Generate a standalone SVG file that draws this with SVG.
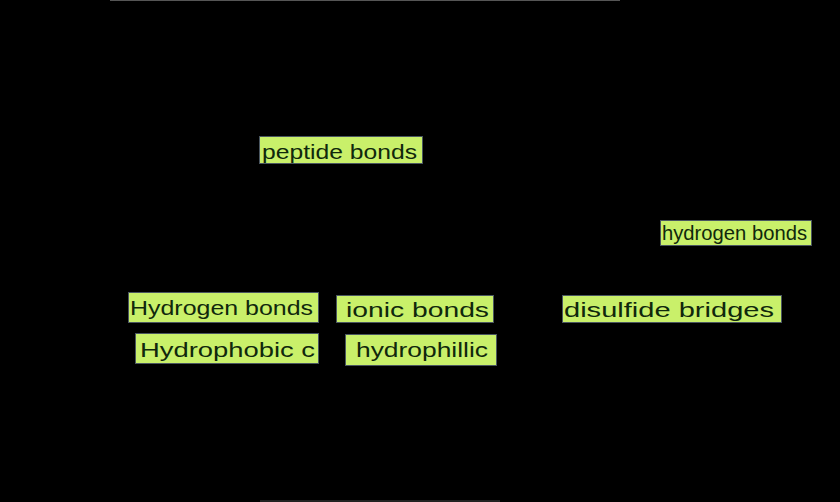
<svg xmlns="http://www.w3.org/2000/svg" width="840" height="502" viewBox="0 0 840 502">
<style>
.box{fill:#c9f06a;stroke:#4a5660;stroke-width:1}
.lbl{font-family:"Liberation Sans","DejaVu Sans",sans-serif;font-size:21px;fill:#10280c;dominant-baseline:central}
</style>
<rect width="840" height="502" fill="#000"/>
<g id="edges"></g>
<line x1="110" y1="0.5" x2="620" y2="0.5" stroke="#555" stroke-width="1"/>
<line x1="260" y1="501" x2="500" y2="501" stroke="#444" stroke-width="1"/>
<g id="n-peptide"><rect class="box" x="259.500" y="136.500" width="163" height="27"/><text class="lbl" x="262" y="151" textLength="155" lengthAdjust="spacingAndGlyphs">peptide bonds</text></g>
<g id="n-hbonds-right"><rect class="box" x="660.500" y="220.500" width="151" height="25"/><text class="lbl" x="662" y="232" font-size="18" textLength="145" lengthAdjust="spacingAndGlyphs">hydrogen bonds</text></g>
<g id="n-hbonds"><rect class="box" x="128.500" y="292.500" width="190" height="30"/><text class="lbl" x="130" y="307" textLength="183" lengthAdjust="spacingAndGlyphs">Hydrogen bonds</text></g>
<g id="n-ionic"><rect class="box" x="336.500" y="295.500" width="157" height="27"/><text class="lbl" x="346" y="309" textLength="143" lengthAdjust="spacingAndGlyphs">ionic  bonds</text></g>
<g id="n-disulfide"><rect class="box" x="562.500" y="295.500" width="219" height="27"/><text class="lbl" x="564" y="309" textLength="210" lengthAdjust="spacingAndGlyphs">disulfide bridges</text></g>
<g id="n-hydrophobic"><rect class="box" x="135.500" y="333.500" width="183" height="30"/><text class="lbl" x="140" y="349" textLength="175" lengthAdjust="spacingAndGlyphs">Hydrophobic c</text></g>
<g id="n-hydrophilic"><rect class="box" x="345.500" y="334.500" width="151" height="31"/><text class="lbl" x="356" y="349" textLength="132" lengthAdjust="spacingAndGlyphs">hydrophillic</text></g>
</svg>
